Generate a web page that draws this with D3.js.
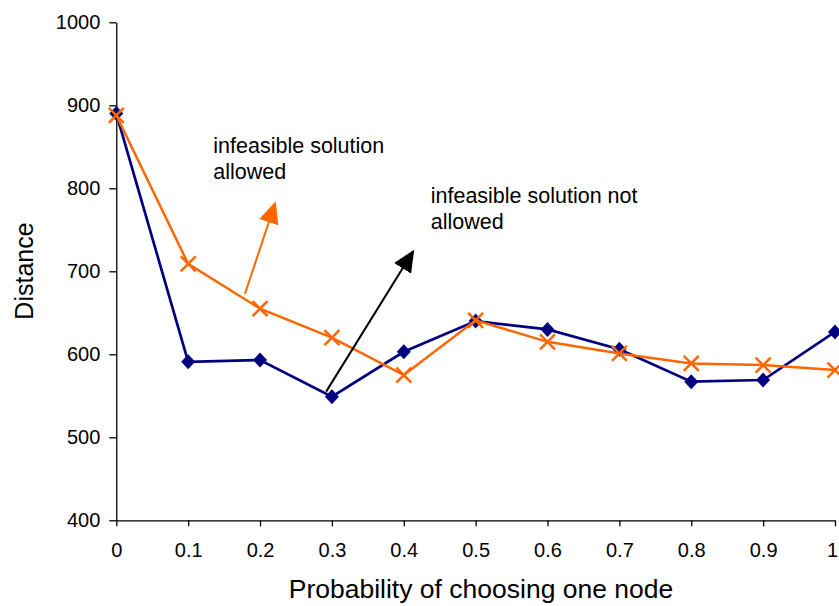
<!DOCTYPE html>
<html>
<head>
<meta charset="utf-8">
<script src="https://cdn.jsdelivr.net/npm/d3@7"></script>
<style>
  body { margin: 0; background: #fff; }
  svg { display: block; font-family: Arial, "Liberation Sans", sans-serif; }
</style>
</head>
<body>
<div id="app"></div>
<script>
// Data
const probs = [0, 0.1, 0.2, 0.3, 0.4, 0.5, 0.6, 0.7, 0.8, 0.9, 1];
const notAllowed = [890, 591, 593, 549, 603, 640, 630, 606, 567, 569, 627];
const allowed = [888, 709, 655, 620, 575, 641, 615, 601, 589, 587, 581];
const xTicks = [0, 0.1, 0.2, 0.3, 0.4, 0.5, 0.6, 0.7, 0.8, 0.9, 1];
const yTicks = [400, 500, 600, 700, 800, 900, 1000];

// Annotations in data units
const notes = [
  { lines: ["infeasible solution", "allowed"], x: 0.135, y: 842, color: "#ff6600",
    from: [0.179, 673], to: [0.221, 782] },
  { lines: ["infeasible solution not", "allowed"], x: 0.4375, y: 782, color: "#000000",
    from: [0.292, 555], to: [0.413, 724] }
];

const width = 839;
const height = 606;
const margin = { left: 116.3, right: 4, top: 22.3, bottom: 85.7 };

const xScale = d3.scaleLinear()
  .domain([0, 1])
  .range([margin.left, width - margin.right]);

const yScale = d3.scaleLinear()
  .domain([400, 1000])
  .range([height - margin.bottom, margin.top]);

const svg = d3.select("#app")
  .append("svg")
  .attr("width", width)
  .attr("height", height);

// Arrow heads
const defs = svg.append("defs");
notes.forEach((n, i) => {
  defs.append("marker")
    .attr("id", "arrow" + i)
    .attr("markerUnits", "userSpaceOnUse")
    .attr("viewBox", "0 -10 22 20")
    .attr("refX", 20)
    .attr("refY", 0)
    .attr("markerWidth", 22)
    .attr("markerHeight", 20)
    .attr("orient", "auto")
    .append("path")
    .attr("d", "M0,-10L22,0L0,10Z")
    .attr("fill", n.color);
});

// Axes
const yAxis = d3.axisLeft(yScale)
  .tickValues(yTicks)
  .tickSize(7)
  .tickSizeOuter(0)
  .tickPadding(9)
  .tickFormat(d3.format("d"));

const xAxis = d3.axisBottom(xScale)
  .tickValues(xTicks)
  .tickSize(6)
  .tickSizeOuter(0)
  .tickPadding(17)
  .tickFormat((d) => (d === 0 || d === 1 ? d3.format("d")(d) : d3.format(".1f")(d)));

svg.append("g")
  .attr("transform", `translate(${margin.left},0)`)
  .call(yAxis)
  .call((g) => g.selectAll("text").attr("font-size", 20).attr("fill", "#000"))
  .call((g) => g.selectAll("line, path").attr("stroke", "#000").attr("stroke-width", 1.3));

svg.append("g")
  .attr("transform", `translate(0,${height - margin.bottom})`)
  .call(xAxis)
  .call((g) => g.selectAll("text").attr("font-size", 20).attr("fill", "#000")
    .attr("dx", (d) => (d === 1 ? -3 : 0)))
  .call((g) => g.selectAll("line, path").attr("stroke", "#000").attr("stroke-width", 1.3));

// Axis titles
svg.append("text")
  .attr("x", 481)
  .attr("y", 598)
  .attr("text-anchor", "middle")
  .attr("font-size", 26.5)
  .text("Probability of choosing one node");

svg.append("text")
  .attr("transform", "translate(33,271) rotate(-90)")
  .attr("text-anchor", "middle")
  .attr("font-size", 25)
  .text("Distance");

// Lines
const line = d3.line()
  .x((d, i) => xScale(probs[i]))
  .y((d) => yScale(d));

// Series: infeasible solution not allowed (navy diamonds)
svg.append("path")
  .datum(notAllowed)
  .attr("d", line)
  .attr("fill", "none")
  .attr("stroke", "#000080")
  .attr("stroke-width", 2.7);

svg.selectAll(".diamond")
  .data(notAllowed)
  .enter()
  .append("path")
  .attr("class", "diamond")
  .attr("transform", (d, i) => `translate(${xScale(probs[i])},${yScale(d)})`)
  .attr("d", "M0,-7.5L7,0L0,7.5L-7,0Z")
  .attr("fill", "#000080");

// Series: infeasible solution allowed (orange crosses)
svg.append("path")
  .datum(allowed)
  .attr("d", line)
  .attr("fill", "none")
  .attr("stroke", "#ff6600")
  .attr("stroke-width", 2.5);

svg.selectAll(".cross")
  .data(allowed)
  .enter()
  .append("path")
  .attr("class", "cross")
  .attr("transform", (d, i) => `translate(${xScale(probs[i])},${yScale(d)})`)
  .attr("d", "M-7.5,-7.5L7.5,7.5M-7.5,7.5L7.5,-7.5")
  .attr("stroke", "#ff6600")
  .attr("stroke-width", 2.5);

// Annotations
notes.forEach((n, i) => {
  svg.append("line")
    .attr("x1", xScale(n.from[0]))
    .attr("y1", yScale(n.from[1]))
    .attr("x2", xScale(n.to[0]))
    .attr("y2", yScale(n.to[1]))
    .attr("stroke", n.color)
    .attr("stroke-width", 2)
    .attr("marker-end", `url(#arrow${i})`);

  svg.append("text")
    .attr("font-size", 21.5)
    .attr("fill", "#000")
    .selectAll("tspan")
    .data(n.lines)
    .enter()
    .append("tspan")
    .attr("x", xScale(n.x))
    .attr("y", (d, j) => yScale(n.y) + j * 26)
    .text((d) => d);
});
</script>
</body>
</html>
